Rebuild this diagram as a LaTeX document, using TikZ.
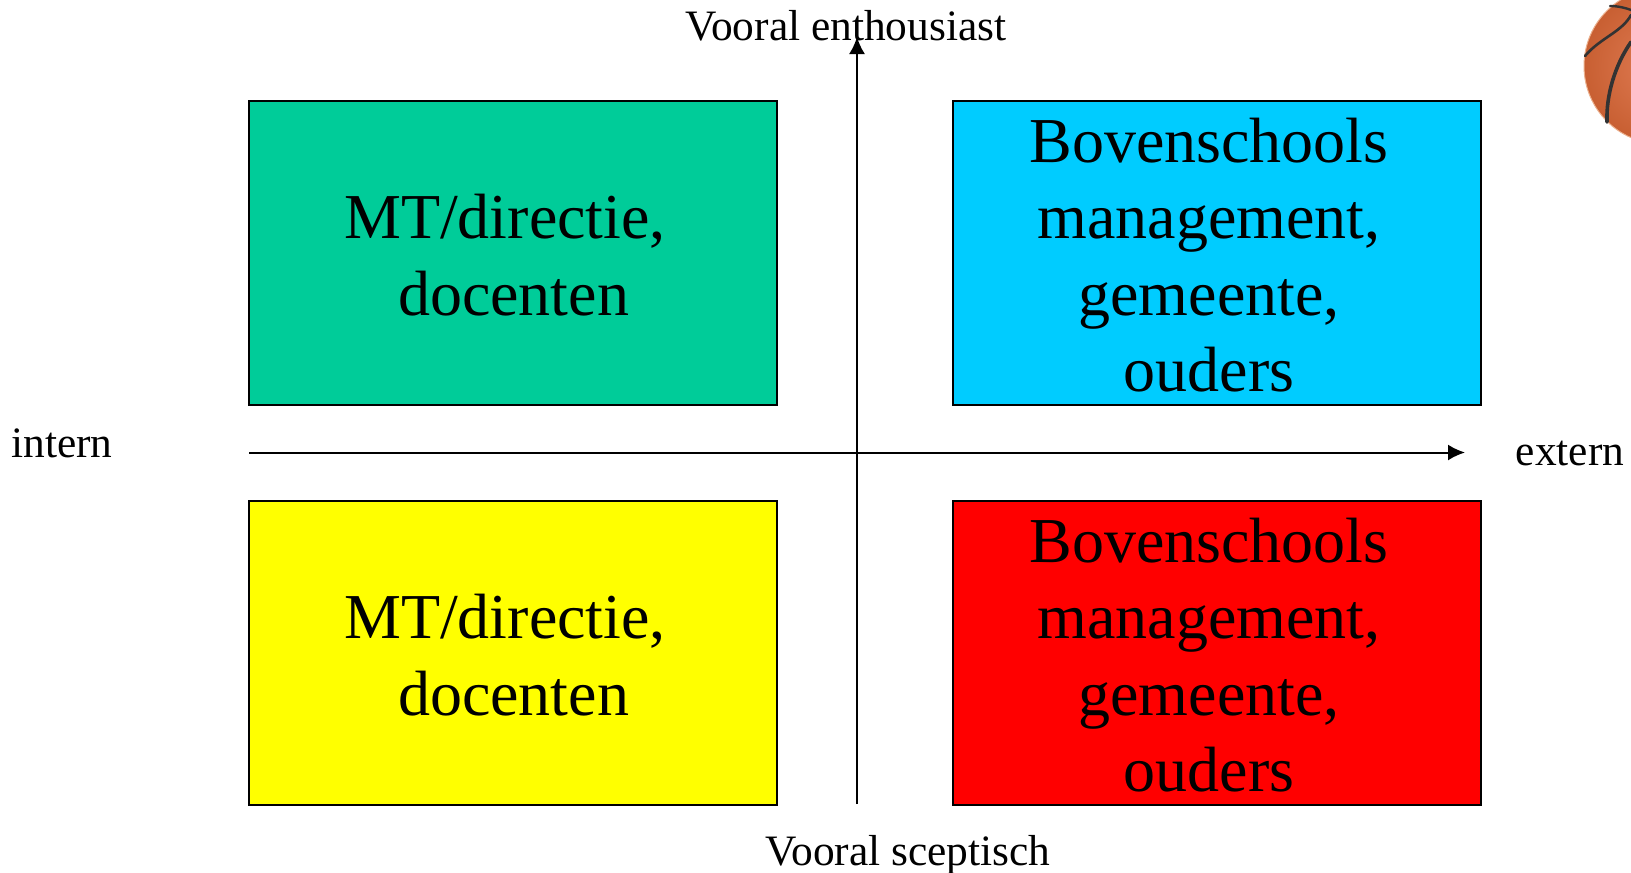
\documentclass[tikz,border=0pt]{standalone}
\usepackage{fontspec}
\setmainfont{Liberation Serif}
\usetikzlibrary{arrows.meta}
\definecolor{qgreen}{RGB}{0,204,153}
\definecolor{qblue}{RGB}{0,204,255}
\definecolor{qyellow}{RGB}{255,255,0}
\definecolor{qred}{RGB}{255,0,0}
\definecolor{ballc}{RGB}{200,95,50}
\definecolor{ballhi}{RGB}{225,125,85}
\definecolor{ballrim}{RGB}{235,175,140}
\tikzset{
  quad/.style={draw=black,line width=2pt,minimum width=528pt,minimum height=304pt,inner sep=0pt,anchor=north west,align=center,font=\fontsize{64}{76.5}\selectfont},
  axislabel/.style={inner sep=0pt,font=\fontsize{43.4}{50}\selectfont},
  axis/.style={line width=2pt,-{Latex[length=17pt,width=16pt]}},
  seam/.style={line width=3.6pt,draw=black!80,line cap=round}
}
\begin{document}
\begin{tikzpicture}[x=1pt,y=-1pt]
\useasboundingbox (0,0) rectangle (1631,873);
\begin{scope}
\clip (0,0) rectangle (1631,873);
\shade[inner color=ballhi,outer color=ballc] (1662,66) circle (78);
\draw[ballrim,line width=1pt] (1662,66) circle (78);
\draw[seam,line width=2.6pt] (1585,56) .. controls (1600,38) and (1622,32) .. (1631,15);
\draw[seam,line width=2.4pt] (1610,6) .. controls (1618,6) and (1626,8) .. (1631,10);
\draw[seam] (1607,122) .. controls (1606,95) and (1615,65) .. (1631,42);
\end{scope}
\node[quad,fill=qgreen] (tl) at (248,100) {};
\node[quad,fill=qblue] (tr) at (952,100) {};
\node[quad,fill=qyellow] (bl) at (248,500) {};
\node[quad,fill=qred] (br) at (952,500) {};
\node[quad,draw=none,shift={(0.5,2)}] (tlt) at (tl.north west) {\makebox[0pt]{\hspace{-17pt}MT/directie,}\\ docenten};
\node[quad,draw=none,shift={(-8,2)}] (trt) at (tr.north west) {Bovenschools\\management,\\gemeente,\\ouders};
\node[quad,draw=none,shift={(0.5,2)}] (blt) at (bl.north west) {\makebox[0pt]{\hspace{-17pt}MT/directie,}\\ docenten};
\node[quad,draw=none,shift={(-8,2)}] (brt) at (br.north west) {Bovenschools\\management,\\gemeente,\\ouders};
\coordinate (xs) at (249,452.5);
\coordinate (xe) at (1465,452.5);
\coordinate (ys) at (857,804);
\coordinate (ye) at (857,37);
\draw[axis] (xs) -- (xe);
\draw[axis] (ys) -- (ye);
\node[axislabel] (top) at (846,26) {Vooral enthousiast};
\node[axislabel] (bot) at (908,855) {Vooral sceptisch};
\node[axislabel] (int) at (62,443) {intern};
\node[axislabel] (ext) at (1570,453.5) {extern};
\end{tikzpicture}
\end{document}
